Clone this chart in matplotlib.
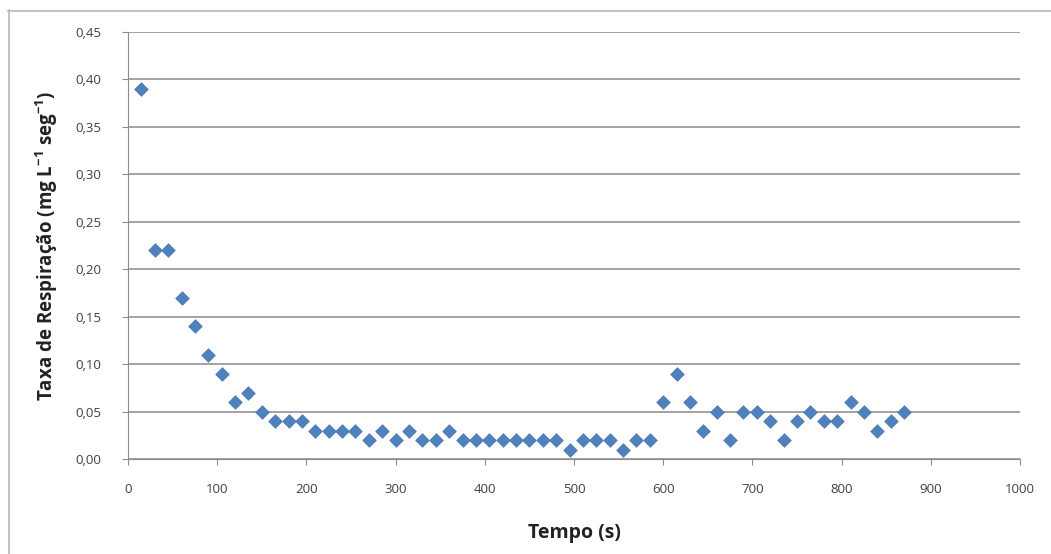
import matplotlib.pyplot as plt
from matplotlib.lines import Line2D

plt.rcParams['font.family'] = ['Open Sans', 'DejaVu Sans']
plt.rcParams['mathtext.fontset'] = 'custom'
plt.rcParams['mathtext.rm'] = 'Open Sans'
plt.rcParams['mathtext.bf'] = 'Open Sans:bold'

# tempo (s) e taxa de respiração
tempo = [15, 30, 45, 60, 75, 90, 105, 120, 135, 150,
         165, 180, 195, 210, 225, 240, 255, 270, 285, 300,
         315, 330, 345, 360, 375, 390, 405, 420, 435, 450,
         465, 480, 495, 510, 525, 540, 555, 570, 585, 600,
         615, 630, 645, 660, 675, 690, 705, 720, 735, 750,
         765, 780, 795, 810, 825, 840, 855, 870]
taxa = [0.39, 0.22, 0.22, 0.17, 0.14, 0.11, 0.09, 0.06, 0.07, 0.05,
        0.04, 0.04, 0.04, 0.03, 0.03, 0.03, 0.03, 0.02, 0.03, 0.02,
        0.03, 0.02, 0.02, 0.03, 0.02, 0.02, 0.02, 0.02, 0.02, 0.02,
        0.02, 0.02, 0.01, 0.02, 0.02, 0.02, 0.01, 0.02, 0.02, 0.06,
        0.09, 0.06, 0.03, 0.05, 0.02, 0.05, 0.05, 0.04, 0.02, 0.04,
        0.05, 0.04, 0.04, 0.06, 0.05, 0.03, 0.04, 0.05]

xticks = [0, 100, 200, 300, 400, 500, 600, 700, 800, 900, 1000]
yticks = [0.00, 0.05, 0.10, 0.15, 0.20, 0.25, 0.30, 0.35, 0.40, 0.45]
ytick_labels = ['0,00', '0,05', '0,10', '0,15', '0,20', '0,25', '0,30', '0,35', '0,40', '0,45']

fig = plt.figure(figsize=(10.51, 5.54), dpi=100)
ax = fig.add_axes([128 / 1051, 95 / 554, 892 / 1051, 427 / 554])

# moldura da área do gráfico (estilo Excel)
fig.add_artist(Line2D([8 / 1051, 1], [1 - 10.5 / 554, 1 - 10.5 / 554], color='#b8b8b8', lw=1.2))
fig.add_artist(Line2D([8.5 / 1051, 8.5 / 1051], [0, 1 - 10 / 554], color='#b8b8b8', lw=1.2))

ax.scatter(tempo, taxa, marker='D', s=48, color='#4f81bd', edgecolors='#4a7ab5',
           linewidths=0.5, zorder=3, clip_on=False)

ax.set_xlim(0, 1000)
ax.set_ylim(0, 0.45)
ax.set_xticks(xticks)
ax.set_xticklabels([str(t) for t in xticks])
ax.set_yticks(yticks)
ax.set_yticklabels(ytick_labels)

ax.yaxis.grid(True, color='#929292', lw=1.2)
ax.set_axisbelow(True)
for s in ['top', 'right']:
    ax.spines[s].set_visible(False)
ax.spines['left'].set_color('#8c8c8c')
ax.spines['bottom'].set_color('#8c8c8c')
ax.tick_params(axis='both', colors='#8c8c8c', labelcolor='#404040', labelsize=9.5,
               direction='out', length=4)
ax.tick_params(axis='x', pad=13)
ax.tick_params(axis='y', pad=15)

ax.set_xlabel('Tempo (s)', fontsize=14, fontweight='bold', color='#222222', labelpad=20)
ax.set_ylabel('Taxa de Respiração (mg L$^{\\mathbf{-1}}$ seg$^{\\mathbf{-1}}$)',
              fontsize=13.5, fontweight='bold', color='#222222', labelpad=11)

fig.savefig('out.png', dpi=100, facecolor='white')
